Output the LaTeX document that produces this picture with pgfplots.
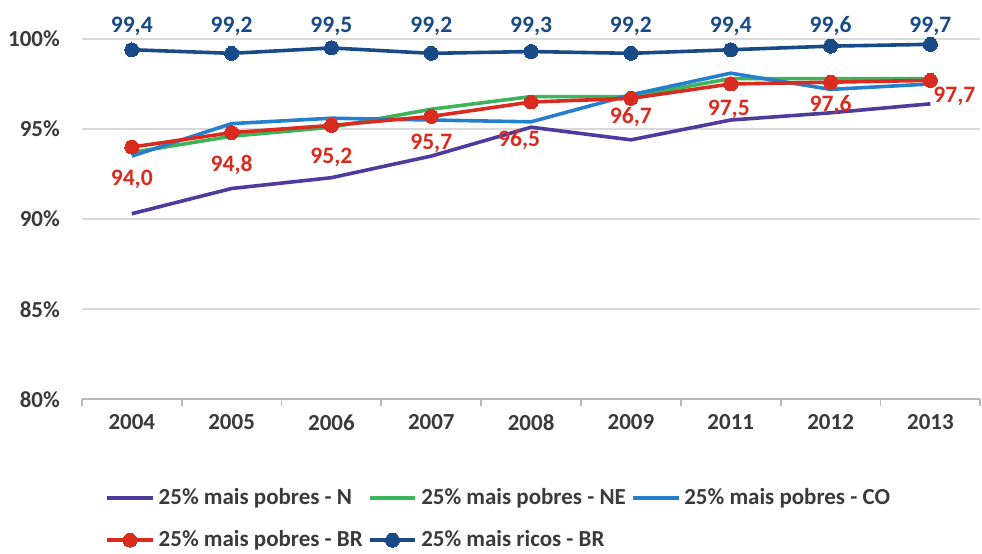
\documentclass[border=0pt]{standalone}
\usepackage{fontspec}
\setmainfont{Carlito}
\usepackage{pgfplots}
\usepackage{pgfplotstable}
\pgfplotsset{compat=1.18}
\usetikzlibrary{calc}

\definecolor{cN}{HTML}{4F3B9E}
\definecolor{cNE}{HTML}{3DB35A}
\definecolor{cCO}{HTML}{2580CC}
\definecolor{cBR}{HTML}{D92B1F}
\definecolor{cRi}{HTML}{174A86}
\definecolor{txt}{HTML}{3A3A3A}

% x = category index (2004..2013, no 2010)
\pgfplotstableread{
x y
0 90.3
1 91.7
2 92.3
3 93.5
4 95.1
5 94.4
6 95.5
7 95.9
8 96.4
}\dataN
\pgfplotstableread{
x y
0 93.7
1 94.6
2 95.1
3 96.1
4 96.8
5 96.8
6 97.8
7 97.8
8 97.8
}\dataNE
\pgfplotstableread{
x y
0 93.5
1 95.3
2 95.6
3 95.5
4 95.4
5 96.9
6 98.1
7 97.2
8 97.5
}\dataCO
% dx, dy: label offsets in pt
\pgfplotstableread{
x y dx dy
0 94.0 0 -16
1 94.8 0 -16
2 95.2 0 -16
3 95.7 0 -13.3
4 96.5 -6 -19
5 96.7 0 -9.2
6 97.5 -1 -12.5
7 97.6 0 -11.3
8 97.7 12 -8
}\dataBR
\pgfplotstableread{
x y dx dy
0 99.4 0 11.9
1 99.2 0 13.7
2 99.5 0 11.0
3 99.2 0 13.7
4 99.3 0 12.8
5 99.2 0 13.7
6 99.4 0 11.9
7 99.6 0 10.1
8 99.7 0 9.2
}\dataRi

\begin{document}
\begin{tikzpicture}
\begin{axis}[
    scale only axis,
    width=450pt, height=180.5pt,
    xmin=-0.5, xmax=8.5,
    ymin=80, ymax=100,
    clip=false,
    font=\fontsize{11.5}{13}\selectfont\bfseries,
    axis x line*=bottom, axis y line*=left,
    x axis line style={draw=gray!55, line width=0.9pt},
    y axis line style={draw=none},
    xtick={0,...,8},
    xticklabels={2004,2005,2006,2007,2008,2009,2011,2012,2013},
    minor xtick={-0.5,0.5,...,8.5},
    major tick length=0pt,
    minor tick length=3.5pt,
    tick align=outside,
    minor x tick style={draw=gray!55, line width=0.9pt},
    ytick={80,85,90,95,100},
    yticklabels={80\%,85\%,90\%,95\%,100\%},
    ytick style={draw=none},
    ymajorgrids,
    grid style={gray!30, line width=0.9pt},
    tick label style={text=txt},
    xticklabel style={yshift=-4pt},
    yticklabel style={xshift=-7.5pt},
    /pgf/number format/.cd, fixed, fixed zerofill, precision=1, use comma, assume math mode=true,
    /pgfplots/.cd,
    legend columns=3,
    legend cell align=left,
    legend style={at={(0,0)}, anchor=north west, xshift=11.5pt, yshift=-42.5pt,
        draw=none, fill=none, inner sep=0pt, row sep=7.5pt,
        font=\fontsize{11.5}{13}\selectfont\bfseries, text=txt,
        /tikz/every even column/.append style={column sep=0.5pt}},
    legend image code/.code={
        \draw[mark repeat=2,mark phase=2] plot coordinates {(0pt,0pt)(11.5pt,0pt)(23pt,0pt)};},
    every axis plot/.append style={line width=1.8pt},
]
\addplot[color=cN, no marks] table[x=x,y=y] {\dataN};
\addplot[color=cNE, no marks] table[x=x,y=y] {\dataNE};
\addplot[color=cCO, no marks] table[x=x,y=y] {\dataCO};
\addplot[color=cBR, mark=*, mark size=3.5pt, mark options={fill=cBR, draw=cBR, line width=0pt},
    nodes near coords,
    visualization depends on={\thisrow{dx} \as \ldx},
    visualization depends on={\thisrow{dy} \as \ldy},
    nodes near coords style={anchor=center, xshift=\ldx pt, yshift=\ldy pt, text=cBR,
        font=\fontsize{11.8}{14}\selectfont\bfseries}]
    table[x=x,y=y] {\dataBR};
\addplot[color=cRi, mark=*, mark size=3.5pt, mark options={fill=cRi, draw=cRi, line width=0pt},
    nodes near coords,
    visualization depends on={\thisrow{dx} \as \ldx},
    visualization depends on={\thisrow{dy} \as \ldy},
    nodes near coords style={anchor=center, xshift=\ldx pt, yshift=\ldy pt, text=cRi,
        font=\fontsize{11.8}{14}\selectfont\bfseries}]
    table[x=x,y=y] {\dataRi};
\legend{25\% mais pobres - N, 25\% mais pobres - NE, 25\% mais pobres - CO,
        25\% mais pobres - BR, 25\% mais ricos - BR}
\end{axis}
\path ($(current axis.south west)+(-41pt,-72.5pt)$) rectangle ($(current axis.north east)+(0pt,19.5pt)$);
\end{tikzpicture}
\end{document}
